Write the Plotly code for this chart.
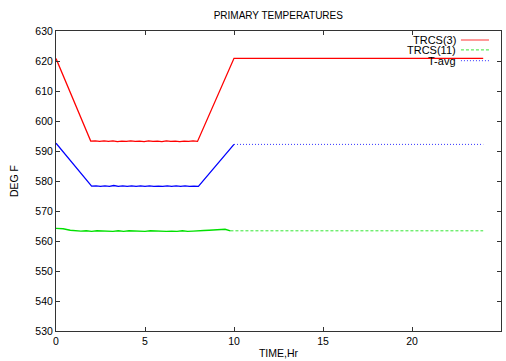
import plotly.graph_objects as go

# ---- data ----
title_text = "PRIMARY TEMPERATURES"
x_title = "TIME,Hr"
y_title = "DEG F"
x_ticks = [0, 5, 10, 15, 20, 25]
y_ticks = [530, 540, 550, 560, 570, 580, 590, 600, 610, 620, 630]

# TRCS(3)
red_t = [0.0, 1.95, 2.2, 2.45, 2.7, 2.95, 3.2, 3.45, 3.7, 3.95, 4.2, 4.45, 4.7,
         4.95, 5.2, 5.45, 5.7, 5.95, 6.2, 6.45, 6.7, 6.95, 7.2, 7.45, 7.7, 7.95,
         10.0, 16.0, 16.3, 24.0]
red_v = [620.8, 593.3, 593.4, 593.2, 593.4, 593.2, 593.4, 593.1, 593.3, 593.2,
         593.4, 593.2, 593.3, 593.1, 593.4, 593.2, 593.3, 593.1, 593.4, 593.2,
         593.3, 593.1, 593.3, 593.2, 593.4, 593.2,
         620.9, 620.9, 621.0, 620.9]

# TRCS(11)
green_t_dense = [0.0, 0.4, 0.8, 1.1, 1.4, 1.7, 2.0, 2.3, 2.6, 2.9, 3.2, 3.5, 3.8,
                 4.1, 4.4, 4.7, 5.0, 5.3, 5.6, 5.9, 6.2, 6.5, 6.8, 7.1, 7.4,
                 7.7, 8.0, 8.3, 8.6, 8.9, 9.2, 9.5, 9.8]
green_v_dense = [564.2, 564.1, 563.6, 563.4, 563.3, 563.4, 563.2, 563.4, 563.3,
                 563.4, 563.2, 563.4, 563.2, 563.4, 563.3, 563.4, 563.2, 563.4,
                 563.3, 563.4, 563.2, 563.3, 563.2, 563.4, 563.2, 563.3, 563.3,
                 563.5, 563.6, 563.7, 563.8, 563.9, 563.4]
green_t_sparse = [9.8, 24.0]
green_v_sparse = [563.4, 563.4]

# T-avg
blue_t_dense = [0.0, 2.0, 2.25, 2.5, 2.75, 3.0, 3.25, 3.5, 3.75, 4.0, 4.25, 4.5,
                4.75, 5.0, 5.25, 5.5, 5.75, 6.0, 6.25, 6.5, 6.75, 7.0, 7.25, 7.5,
                7.75, 8.0, 10.0]
blue_v_dense = [592.6, 578.3, 578.4, 578.2, 578.4, 578.2, 578.5, 578.2, 578.4,
                578.2, 578.4, 578.2, 578.4, 578.2, 578.4, 578.2, 578.3, 578.2,
                578.4, 578.2, 578.4, 578.2, 578.4, 578.2, 578.3, 578.2, 592.2]
blue_t_sparse = [10.0, 24.0]
blue_v_sparse = [592.2, 592.2]

series_names = ["TRCS(3)", "TRCS(11)", "T-avg"]
colors = ["#ff0000", "#00e000", "#0000ff"]
dashes = ["solid", "3px,2px", "1px,2px"]

FONT = "Liberation Sans, Arial, sans-serif"

fig = go.Figure()
fig.add_trace(go.Scatter(x=red_t, y=red_v, mode="lines",
                         line=dict(color=colors[0], width=1.3), showlegend=False))
fig.add_trace(go.Scatter(x=green_t_dense, y=green_v_dense, mode="lines",
                         line=dict(color=colors[1], width=1.4), showlegend=False))
fig.add_trace(go.Scatter(x=green_t_sparse, y=green_v_sparse, mode="lines",
                         line=dict(color=colors[1], width=0.8, dash=dashes[1]), showlegend=False))
fig.add_trace(go.Scatter(x=blue_t_dense, y=blue_v_dense, mode="lines",
                         line=dict(color=colors[2], width=1.3), showlegend=False))
fig.add_trace(go.Scatter(x=blue_t_sparse, y=blue_v_sparse, mode="lines",
                         line=dict(color=colors[2], width=0.8, dash=dashes[2]), showlegend=False))

# gnuplot-style key: right-justified text with sample line to its right
key_y = [0.970, 0.937, 0.901]
for name, col, dsh, ky in zip(series_names, colors, dashes, key_y):
    fig.add_annotation(x=0.896, y=ky, xref="paper", yref="paper", text=name,
                       showarrow=False, xanchor="right", yanchor="middle",
                       xshift=3, font=dict(family=FONT, size=11, color="#000000"))
    fig.add_shape(type="line", xref="paper", yref="paper", x0=0.910, x1=0.973,
                  y0=ky, y1=ky, line=dict(color=col, width=0.8, dash=dsh))

axis_common = dict(showline=True, linecolor="#333333", linewidth=1, mirror="ticks",
                   ticks="inside", ticklen=4, tickcolor="#333333", showgrid=False,
                   zeroline=False, automargin=False,
                   tickfont=dict(family=FONT, size=10.5, color="#000000"))

fig.update_layout(
    width=506, height=361,
    margin=dict(l=56, r=5, t=31, b=30, autoexpand=False),
    paper_bgcolor="white", plot_bgcolor="white",
    title=dict(text=title_text, x=0.55, xanchor="center", y=1 - 15 / 361, yanchor="middle",
               font=dict(family=FONT, size=10, color="#000000")),
    xaxis=dict(range=[0, 25], tickvals=x_ticks, ticktext=[str(v) for v in x_ticks],
               title=dict(text=x_title, standoff=4, font=dict(family=FONT, size=10.5, color="#000000")),
               **axis_common),
    yaxis=dict(range=[530, 630], tickvals=y_ticks, ticktext=[str(v) for v in y_ticks],
               title=dict(text=y_title, standoff=14, font=dict(family=FONT, size=10.5, color="#000000")),
               **axis_common),
    showlegend=False,
)

fig.write_html("out.html", config={"displayModeBar": False},
               post_script="document.body.style.margin='0px';")
